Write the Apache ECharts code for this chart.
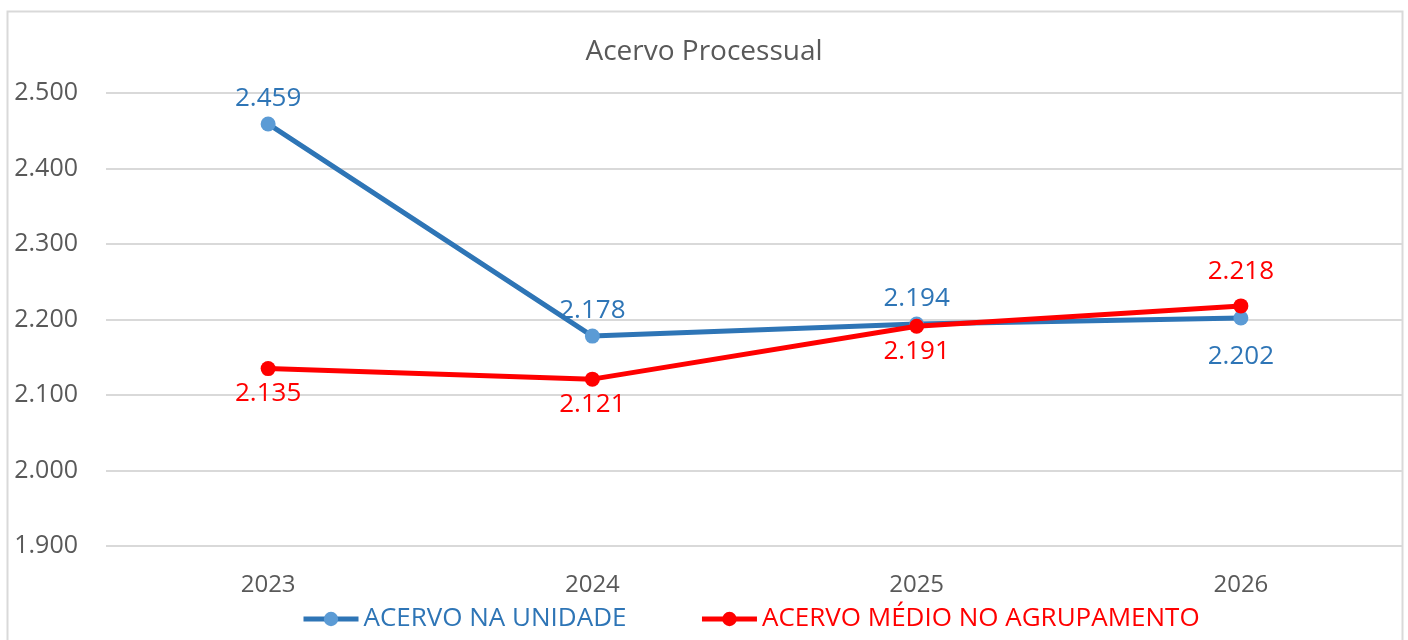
<!DOCTYPE html>
<html>
<head>
<meta charset="utf-8">
<script src="https://cdn.jsdelivr.net/npm/echarts@6/dist/echarts.min.js"></script>
<style>
  html, body { margin: 0; padding: 0; background: #fff; }
  #acervo-line { width: 1408px; height: 640px; }
</style>
</head>
<body>
<div id="acervo-line"></div>
<script>
const years = ['2023', '2024', '2025', '2026']
const acervoUnidade = [2459, 2178, 2194, 2202]
const acervoAgrupamento = [2135, 2121, 2191, 2218]
const yTicks = [1900, 2000, 2100, 2200, 2300, 2400, 2500]

const fontFamily = 'Open Sans'
const fmt = v => {
  const s = String(v)
  return s.length > 3 ? s.slice(0, s.length - 3) + '.' + s.slice(-3) : s
}

const chart = echarts.init(document.getElementById('acervo-line'))
const option = {
  textStyle: { fontFamily: fontFamily },
  graphic: [{
    type: 'rect',
    shape: { x: 7.5, y: 11.5, width: 1395, height: 700 },
    style: { fill: 'none', stroke: '#D9D9D9', lineWidth: 2 },
    silent: true
  }],
  title: {
    text: 'Acervo Processual',
    left: 'center',
    top: 33,
    textStyle: { color: '#595959', fontWeight: 'normal', fontSize: 28, fontFamily: fontFamily }
  },
  legend: {
    left: 296,
    top: 601,
    itemWidth: 55,
    itemHeight: 18,
    itemGap: 73,
    lineStyle: { width: 5 },
    textStyle: { fontSize: 26, fontFamily: fontFamily },
    data: [
      { name: 'ACERVO NA UNIDADE', textStyle: { color: '#2E75B6' } },
      { name: 'ACERVO MÉDIO NO AGRUPAMENTO', textStyle: { color: '#FF0000' } }
    ]
  },
  grid: { left: 106, right: 5, top: 93, bottom: 94 },
  xAxis: {
    type: 'category',
    data: years,
    boundaryGap: true,
    axisLine: { show: false },
    axisTick: { show: false },
    axisLabel: { color: '#595959', fontSize: 24, margin: 27 }
  },
  yAxis: {
    type: 'value',
    min: yTicks[0],
    max: yTicks[yTicks.length - 1],
    interval: 100,
    axisLine: { show: false },
    axisTick: { show: false },
    splitLine: { lineStyle: { color: '#D9D9D9', width: 2 } },
    axisLabel: { color: '#595959', fontSize: 25, margin: 28, formatter: v => fmt(v) }
  },
  series: [
    {
      name: 'ACERVO NA UNIDADE',
      type: 'line',
      data: acervoUnidade.map((v, i) => ({
        value: v,
        label: i === 3 ? { position: 'bottom', distance: 18 } : { position: 'top' }
      })),
      symbol: 'circle',
      symbolSize: 15,
      lineStyle: { color: '#2E75B6', width: 5 },
      itemStyle: { color: '#5B9BD5' },
      label: { show: true, color: '#2E75B6', fontSize: 26, distance: 5, formatter: p => fmt(p.value) },
      z: 2
    },
    {
      name: 'ACERVO MÉDIO NO AGRUPAMENTO',
      type: 'line',
      data: acervoAgrupamento.map((v, i) => ({
        value: v,
        label: i === 3 ? { position: 'top', distance: 14 } : { position: 'bottom' }
      })),
      symbol: 'circle',
      symbolSize: 15,
      lineStyle: { color: '#FF0000', width: 5 },
      itemStyle: { color: '#FF0000' },
      label: { show: true, color: '#FF0000', fontSize: 26, distance: 5, formatter: p => fmt(p.value) },
      z: 3
    }
  ]
}
chart.setOption(option)
</script>
</body>
</html>
